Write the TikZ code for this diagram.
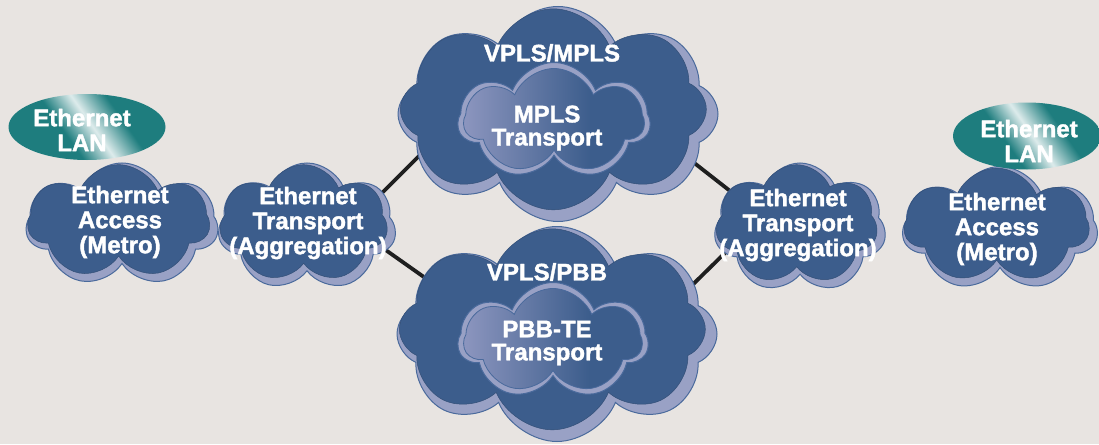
\documentclass[tikz,border=0pt]{standalone}
\usepackage{fontspec}
\setmainfont{Liberation Sans}[BoldFont={Liberation Sans Bold},BoldFeatures={FakeBold=1.6}]
\usetikzlibrary{shapes.symbols,shapes.geometric}
\definecolor{bgc}{HTML}{E8E4E1}
\definecolor{cdark}{HTML}{3C5D8C}
\definecolor{clav}{HTML}{99A1C5}
\definecolor{cline}{HTML}{4A6A9C}
\definecolor{tealc}{HTML}{1E7D7E}
\definecolor{glight}{HTML}{8D96BF}
\pgfdeclarelayer{back}
\pgfdeclarelayer{lines}
\pgfsetlayers{back,lines,main}
\pgfdeclarehorizontalshading{ingrad}{100bp}{color(0bp)=(glight); color(25bp)=(glight); color(60bp)=(cdark); color(100bp)=(cdark)}
\pgfdeclarehorizontalshading{sheen}{100bp}{color(0bp)=(tealc); color(41bp)=(tealc); color(52bp)=(white!85!tealc); color(64bp)=(tealc); color(100bp)=(tealc)}
\tikzset{
  cloudbase/.style={cloud, cloud puffs=#1, cloud puff arc=135, cloud ignores aspect, inner sep=0pt, anchor=center},
  outercloud/.style={cloudbase=#1, fill=clav, draw=cline, line width=1pt},
  innercloud/.style={cloudbase=#1, fill=cdark, draw=cdark!85!black, line width=0.5pt},
  gradcloud/.style={cloudbase=#1, shading=ingrad, draw=cline, line width=0.8pt},
  lbl/.style={text=white, font=\bfseries\fontsize{24}{25}\selectfont, align=center, inner sep=0pt},
  lbltight/.style={text=white, font=\bfseries\fontsize{24}{23}\selectfont, align=center, inner sep=0pt},
  lanshape/.style={ellipse, inner sep=0pt, shade, shading=sheen, shading angle=#1},
  link/.style={line width=3.8pt, draw=black!88}
}
% name, x, y, w, h, puffs, shrink
\newcommand\layercloud[7]{%
  \node[outercloud=#6, minimum width=#4, minimum height=#5] (#1) at (#2,#3) {};
  \node[innercloud=#6, minimum width=#4-#7, minimum height=#5-#7] (#1-in) at (#2-#7/3,#3-#7/3) {};
}
\begin{document}
\begin{tikzpicture}[x=1pt,y=-1pt]
\begin{pgfonlayer}{back}
  \fill[bgc] (0,0) rectangle (1099,444);
\end{pgfonlayer}
\useasboundingbox (0,0) rectangle (1099,444);

% clouds
\layercloud{accL}{122}{225}{192}{124}{7}{10}
\layercloud{aggL}{307}{227}{178}{128}{7}{10}
\layercloud{vmpls}{558}{114}{320}{215}{8}{14}
\layercloud{vpbb}{557}{334}{320}{215}{8}{14}
\layercloud{aggR}{800}{228}{172}{130}{7}{10}
\layercloud{accR}{1000}{229}{195}{125}{7}{10}

% inner transport clouds
\node[outercloud=7, minimum width=192, minimum height=117] (mplsT) at (554,121) {};
\node[gradcloud=7, minimum width=180, minimum height=105] (mplsT-in) at (554,121) {};
\node[outercloud=7, minimum width=190, minimum height=117] (pbbT) at (553,341) {};
\node[gradcloud=7, minimum width=178, minimum height=105] (pbbT-in) at (553,341) {};

% Ethernet LAN ellipses
\node[lanshape=35, minimum width=157, minimum height=66] (lanL) at (87,127) {};
\node[lanshape=35, minimum width=148, minimum height=67] (lanR) at (1027,136) {};

% labels
\node[lbl] (lanL-t) at (82,130) {Ethernet\\LAN};
\node[lbl] (lanR-t) at (1029,141) {Ethernet\\LAN};
\node[lbl] (accL-t) at (120,222) {Ethernet\\Access\\(Metro)};
\node[lbl] (aggL-t) at (308,223) {Ethernet\\Transport\\(Aggregation)};
\node[lbl] (vmpls-t) at (552,53) {VPLS/MPLS};
\node[lbltight] (mplsT-t) at (547,128) {MPLS\\Transport};
\node[lbl] (vpbb-t) at (547,272) {VPLS/PBB};
\node[lbltight] (pbbT-t) at (547,343) {PBB-TE\\Transport};
\node[lbl] (aggR-t) at (798,225) {Ethernet\\Transport\\(Aggregation)};
\node[lbl] (accR-t) at (997,229) {Ethernet\\Access\\(Metro)};

% connectors
\begin{pgfonlayer}{lines}
  \draw[link] ([shift={(58,-17)}]aggL.center) -- ([shift={(-130,33)}]vmpls.center);
  \draw[link] ([shift={(73,19)}]aggL.center) -- ([shift={(-102,-35)}]vpbb.center);
  \draw[link] ([shift={(112,30)}]vmpls.center) -- ([shift={(-52,-23)}]aggR.center);
  \draw[link] ([shift={(118,-32)}]vpbb.center) -- ([shift={(-68,18)}]aggR.center);
\end{pgfonlayer}
\end{tikzpicture}
\end{document}
